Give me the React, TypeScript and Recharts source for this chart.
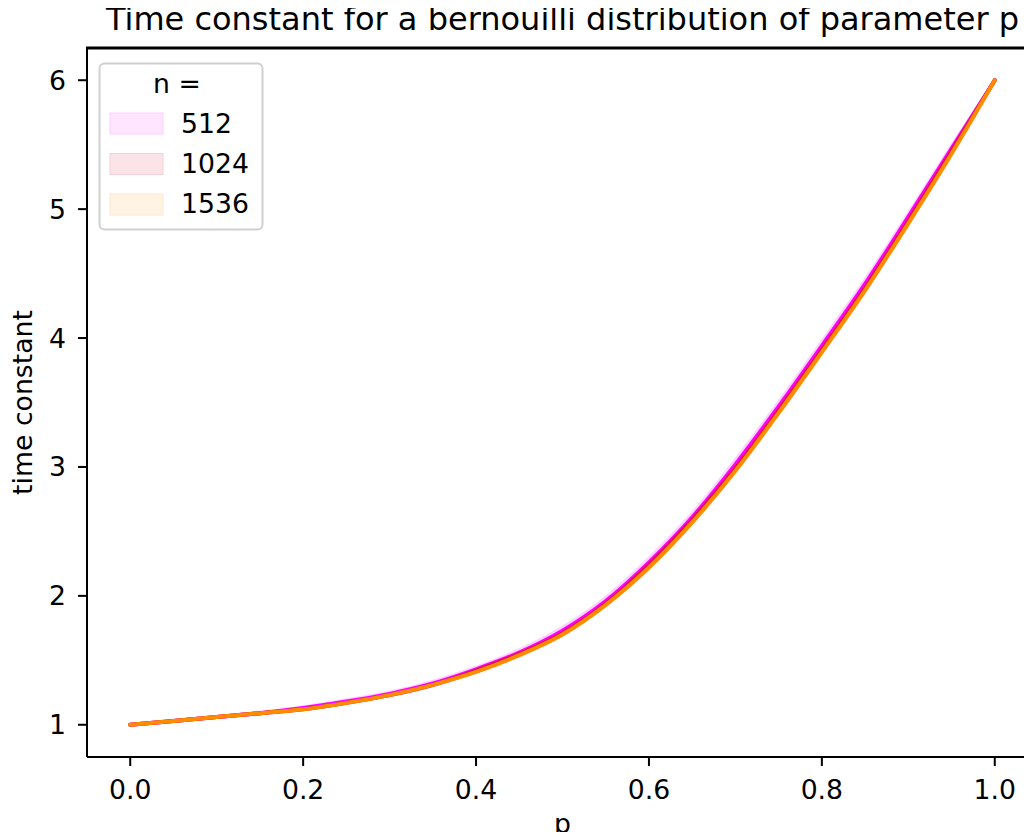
import { ComposedChart, Line, Area, XAxis, YAxis, Label } from "recharts"

// p values and the measured time constant for each n
const P = [0, 0.05, 0.1, 0.15, 0.2, 0.25, 0.3, 0.35, 0.4, 0.45, 0.5, 0.55, 0.6, 0.65, 0.7, 0.75, 0.8, 0.85, 0.9, 0.95, 1.0]
const T512 = [1.0, 1.03, 1.06, 1.09, 1.13, 1.18, 1.24, 1.32, 1.43, 1.56, 1.73, 1.96, 2.26, 2.61, 3.02, 3.47, 3.94, 4.42, 4.94, 5.47, 6.0]
const T1024 = [1.0, 1.03, 1.06, 1.09, 1.12, 1.17, 1.23, 1.31, 1.42, 1.55, 1.71, 1.94, 2.24, 2.59, 2.99, 3.44, 3.91, 4.39, 4.91, 5.45, 6.0]
const T1536 = [1.0, 1.03, 1.06, 1.09, 1.12, 1.17, 1.23, 1.31, 1.41, 1.54, 1.7, 1.93, 2.22, 2.57, 2.97, 3.42, 3.89, 4.37, 4.89, 5.43, 6.0]
// half width of the confidence band
const S512 = [0.01, 0.015, 0.015, 0.02, 0.02, 0.025, 0.025, 0.03, 0.03, 0.035, 0.04, 0.045, 0.05, 0.05, 0.055, 0.055, 0.055, 0.055, 0.05, 0.045, 0.01]
const S1024 = [0.01, 0.01, 0.01, 0.01, 0.015, 0.015, 0.015, 0.02, 0.02, 0.02, 0.025, 0.025, 0.03, 0.03, 0.03, 0.03, 0.03, 0.03, 0.03, 0.025, 0.01]
const S1536 = [0.01, 0.01, 0.01, 0.01, 0.01, 0.01, 0.015, 0.015, 0.015, 0.015, 0.02, 0.02, 0.02, 0.02, 0.025, 0.025, 0.025, 0.025, 0.02, 0.02, 0.01]

const X_TICKS = [0, 0.2, 0.4, 0.6, 0.8, 1.0]
const Y_TICKS = [1, 2, 3, 4, 5, 6]

const SERIES = [
  { n: "512", color: "#ff00ff", patch: "#ffe5ff", edge: "#ffccff" },
  { n: "1024", color: "#dc143c", patch: "#fbe4e8", edge: "#f6d0d8" },
  { n: "1536", color: "#ff8c00", patch: "#fff3e3", edge: "#ffe8cc" },
]

const data = P.map((p, i) => ({
  p,
  t512: T512[i],
  t1024: T1024[i],
  t1536: T1536[i],
  b512: [T512[i] - S512[i], T512[i] + S512[i]],
  b1024: [T1024[i] - S1024[i], T1024[i] + S1024[i]],
  b1536: [T1536[i] - S1536[i], T1536[i] + S1536[i]],
}))

const FONT = "DejaVu Sans"
const FS = 26.7
const tickStyle = { fontSize: FS, fill: "#000", fontFamily: FONT }

function XLabel(props: any) {
  const vb = props.viewBox
  return (
    <text x={vb.x + vb.width / 2} y={vb.y + 76} textAnchor="middle" fontSize={FS} fill="#000" fontFamily={FONT}>
      p
    </text>
  )
}

function YLabel(props: any) {
  const vb = props.viewBox
  const cx = vb.x + 32
  const cy = vb.y + vb.height / 2
  return (
    <text x={cx} y={cy} transform={`rotate(-90 ${cx} ${cy})`} textAnchor="middle" fontSize={FS} fill="#000" fontFamily={FONT}>
      time constant
    </text>
  )
}

// title, top frame line and legend drawn over the chart
function Overlay() {
  return (
    <svg width={1032} height={240} style={{ position: "absolute", left: 0, top: 0, pointerEvents: "none" }}>
      <text x={562.5} y={30} textAnchor="middle" fontSize={32} fill="#000" fontFamily={FONT}>
        Time constant for a bernouilli distribution of parameter p
      </text>
      <rect x={86} y={46.5} width={946} height={3} fill="#000" />
      <rect x={99.5} y={63.5} width={163} height={166} rx={5} fill="#fff" fillOpacity={0.8} stroke="#d0d0d0" strokeWidth={2} />
      <text x={177} y={93} textAnchor="middle" fontSize={FS} fill="#000" fontFamily={FONT}>
        n =
      </text>
      {SERIES.map((s, i) => (
        <g key={s.n}>
          <rect x={110} y={113 + i * 40.5} width={53} height={21} fill={s.patch} stroke={s.edge} strokeWidth={1} />
          <text x={181} y={133 + i * 40} fontSize={FS} fill="#000" fontFamily={FONT}>
            {s.n}
          </text>
        </g>
      ))}
    </svg>
  )
}

export default function App() {
  return (
    <div style={{ position: "relative", margin: -8, width: 1032, height: 840, overflow: "hidden", background: "#fff", fontFamily: FONT }}>
      <ComposedChart width={1040} height={840} data={data} margin={{ top: 48, right: 2, bottom: 23, left: 0 }}>
        <XAxis
          dataKey="p"
          type="number"
          domain={[-0.05, 1.05]}
          ticks={X_TICKS}
          interval={0}
          allowDataOverflow
          tickFormatter={(v: number) => v.toFixed(1)}
          height={60}
          tickSize={9}
          tickMargin={14}
          tick={tickStyle}
          axisLine={{ stroke: "#000", strokeWidth: 2 }}
          tickLine={{ stroke: "#000", strokeWidth: 2 }}
        >
          <Label content={XLabel} />
        </XAxis>
        <YAxis
          type="number"
          domain={[0.75, 6.25]}
          ticks={Y_TICKS}
          interval={0}
          allowDataOverflow
          width={87}
          tickSize={9}
          tickMargin={12}
          tick={tickStyle}
          axisLine={{ stroke: "#000", strokeWidth: 2 }}
          tickLine={{ stroke: "#000", strokeWidth: 2 }}
        >
          <Label content={YLabel} />
        </YAxis>

        <Area dataKey="b512" type="monotone" stroke="none" fill="#ff00ff" fillOpacity={0.18} isAnimationActive={false} />
        <Area dataKey="b1024" type="monotone" stroke="none" fill="#dc143c" fillOpacity={0.12} isAnimationActive={false} />
        <Area dataKey="b1536" type="monotone" stroke="none" fill="#ff8c00" fillOpacity={0.12} isAnimationActive={false} />

        <Line dataKey="t512" type="monotone" stroke="#ff00ff" strokeWidth={4} dot={false} strokeLinecap="round" isAnimationActive={false} />
        <Line dataKey="t1024" type="monotone" stroke="#dc143c" strokeWidth={4} dot={false} strokeLinecap="round" isAnimationActive={false} />
        <Line dataKey="t1536" type="monotone" stroke="#ff8c00" strokeWidth={4} dot={false} strokeLinecap="round" isAnimationActive={false} />
      </ComposedChart>
      <Overlay />
    </div>
  )
}
